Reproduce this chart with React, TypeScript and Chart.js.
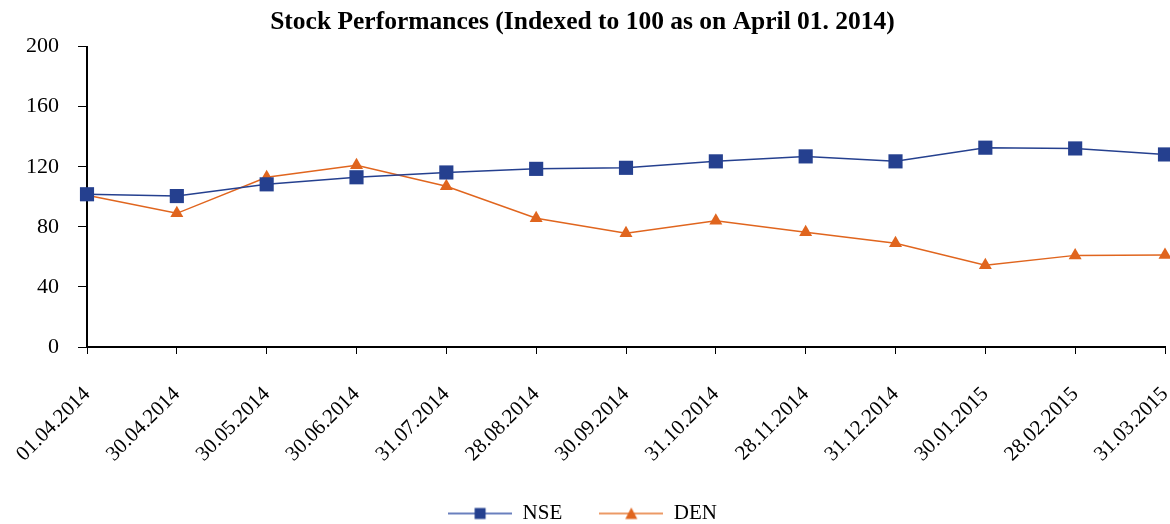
import React, { useEffect, useRef } from "react";
import { Chart, registerables } from "chart.js";

Chart.register(...registerables);

const categories = [
  "01.04.2014", "30.04.2014", "30.05.2014", "30.06.2014", "31.07.2014", "28.08.2014",
  "30.09.2014", "31.10.2014", "28.11.2014", "31.12.2014", "30.01.2015", "28.02.2015", "31.03.2015",
];
const nseValues = [101.7, 100.5, 108.3, 113, 116.2, 118.6, 119.3, 123.6, 126.9, 123.6, 132.7, 132.2, 128.2];
const denValues = [101, 89, 113, 121, 107, 85.7, 75.7, 84, 76.4, 69, 54.5, 61, 61.3];
const yTicks = [0, 40, 80, 120, 160, 200];

const NSE_COLOR = "#25408F";
const DEN_COLOR = "#E0651E";
const FONT = "'Liberation Serif', 'DejaVu Serif', serif";

function legendIcon(color: string, lineColor: string, shape: "rect" | "triangle") {
  const c = document.createElement("canvas");
  c.width = 64;
  c.height = 14;
  const ctx = c.getContext("2d")!;
  ctx.strokeStyle = lineColor;
  ctx.lineWidth = 2;
  ctx.beginPath();
  ctx.moveTo(0, 7);
  ctx.lineTo(64, 7);
  ctx.stroke();
  ctx.fillStyle = color;
  if (shape === "rect") {
    ctx.fillRect(26.5, 1.5, 11, 11);
  } else {
    ctx.beginPath();
    ctx.moveTo(32, 1);
    ctx.lineTo(38, 12.5);
    ctx.lineTo(26, 12.5);
    ctx.closePath();
    ctx.fill();
  }
  return c;
}

export default function App() {
  const ref = useRef<HTMLCanvasElement>(null);
  useEffect(() => {
    if (!ref.current) return;
    const nseIcon = legendIcon(NSE_COLOR, "#6A80BE", "rect");
    const denIcon = legendIcon(DEN_COLOR, "#EC9A66", "triangle");
    const chart = new Chart(ref.current, {
      type: "line",
      data: {
        labels: categories,
        datasets: [
          {
            label: "NSE",
            data: nseValues,
            borderColor: NSE_COLOR,
            backgroundColor: NSE_COLOR,
            borderWidth: 1.5,
            pointStyle: "rect",
            pointRadius: 10,
            pointBorderWidth: 0,
            tension: 0,
            clip: false,
          },
          {
            label: "DEN",
            data: denValues,
            borderColor: DEN_COLOR,
            backgroundColor: DEN_COLOR,
            borderWidth: 1.5,
            pointStyle: "triangle",
            pointRadius: 7.5,
            pointBorderWidth: 0,
            tension: 0,
            clip: false,
          },
        ],
      },
      options: {
        animation: false,
        responsive: true,
        maintainAspectRatio: false,
        layout: { autoPadding: false, padding: { left: 0, right: 5, top: 0, bottom: -10 } },
        plugins: {
          title: {
            display: true,
            text: "Stock Performances (Indexed to 100 as on April 01. 2014)",
            color: "#000",
            font: { family: FONT, size: 25.5, weight: "bold" },
            padding: { top: 7, bottom: 9 },
          },
          legend: {
            position: "bottom",
            labels: {
              usePointStyle: true,
              pointStyleWidth: 64,
              color: "#000",
              font: { family: FONT, size: 21 },
              padding: 37,
              generateLabels: () => [
                { text: "NSE", pointStyle: nseIcon, datasetIndex: 0, fontColor: "#000", lineWidth: 0, strokeStyle: "transparent", fillStyle: "transparent" } as any,
                { text: "DEN", pointStyle: denIcon, datasetIndex: 1, fontColor: "#000", lineWidth: 0, strokeStyle: "transparent", fillStyle: "transparent" } as any,
              ],
            },
          },
          tooltip: { enabled: false },
        },
        scales: {
          x: {
            offset: false,
            afterFit: (axis: any) => {
              axis.height = 119;
              axis.paddingRight = 0;
              axis.paddingLeft = 0;
            },
            grid: {
              display: true,
              drawOnChartArea: false,
              drawTicks: true,
              tickLength: 7,
              color: "#000",
            },
            border: { display: true, color: "#000", width: 2 },
            ticks: {
              color: "#000",
              font: { family: FONT, size: 21 },
              maxRotation: 45,
              minRotation: 45,
              autoSkip: false,
              padding: 28,
            },
          },
          y: {
            min: 0,
            max: 200,
            afterBuildTicks: (axis: any) => {
              axis.ticks = yTicks.map((v) => ({ value: v }));
            },
            afterFit: (axis: any) => {
              axis.width = 87;
            },
            grid: {
              display: true,
              drawOnChartArea: false,
              drawTicks: true,
              tickLength: 9,
              color: "#000",
            },
            border: { display: true, color: "#000", width: 2 },
            ticks: {
              color: "#000",
              font: { family: FONT, size: 22 },
              padding: 19,
            },
          },
        },
      },
    });
    return () => chart.destroy();
  }, []);
  return (
    <div style={{ position: "fixed", left: 0, top: 0, width: 1170, height: 524, background: "#fff" }}>
      <canvas ref={ref} />
    </div>
  );
}
